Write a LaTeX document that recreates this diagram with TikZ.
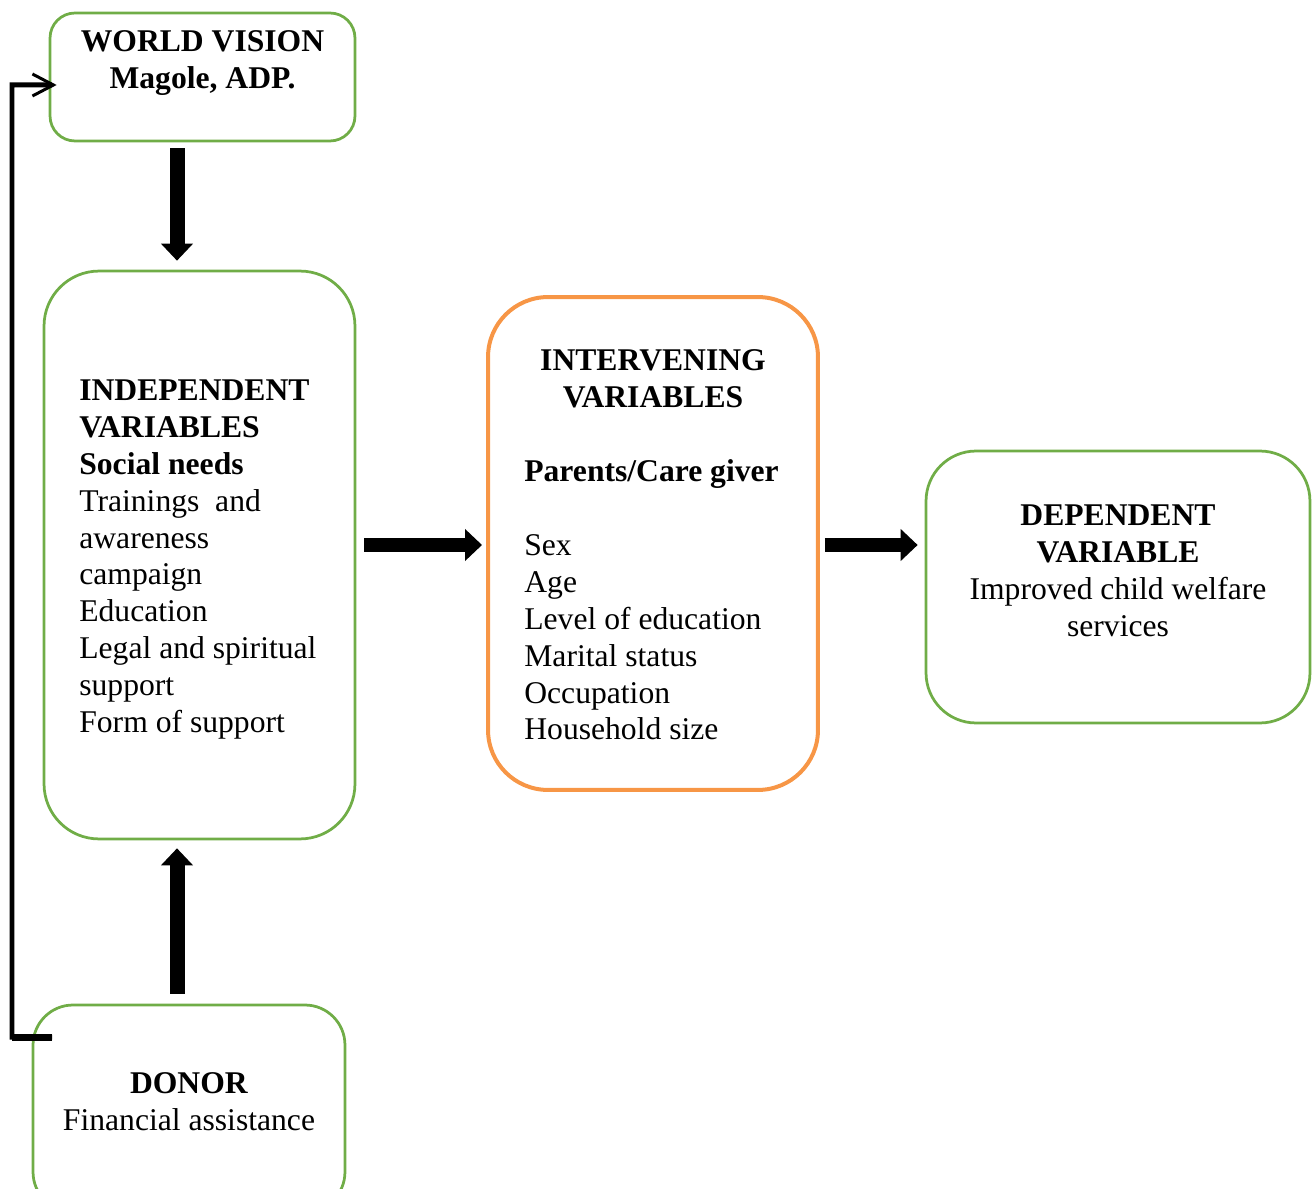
\documentclass[tikz,border=0pt]{standalone}
\usepackage{fontspec}
\setmainfont{Liberation Serif}
\usetikzlibrary{arrows.meta,positioning}
\definecolor{boxgreen}{HTML}{70AD47}
\definecolor{boxorange}{HTML}{F79646}

\begin{document}
\begin{tikzpicture}[x=0.02cm,y=-0.02cm,
  every node/.style={font=\fontsize{18}{21}\selectfont},
  box/.style={draw=boxgreen, line width=0.055cm, rounded corners=0.6cm, inner sep=0pt},
  boxtext/.style={inner sep=0pt, align=center},
  itemtext/.style={inner sep=0pt, align=left, anchor=west},
  bigarrow/.style={line width=0.3cm, -{Triangle[width=0.62cm,length=0.34cm]}},
  feedback/.style={line width=0.1cm, line join=miter, -{Straight Barb[line width=0.06cm,length=0.42cm,width=0.44cm]}}]

  \useasboundingbox (0,0) rectangle (1316,1189);
  \clip (0,0) rectangle (1316,1189);

  \node[box, minimum width=6.1cm, minimum height=2.56cm, rounded corners=0.5cm] (wv) at (202.5,77) {};
  \node[boxtext] (wvtext) at (202.5,63) {\textbf{WORLD VISION}\\\textbf{Magole, ADP.}};

  \node[box, minimum width=6.22cm, minimum height=11.36cm, rounded corners=1.1cm] (indep) at (199.5,555) {};
  \node[itemtext] (indeptext) at (79,559.5) {\textbf{INDEPENDENT}\\\textbf{VARIABLES}\\\textbf{Social needs}\\
    Trainings\ \ and\\awareness\\campaign\\Education\\Legal and spiritual\\support\\Form of support};

  \node[box, draw=boxorange, line width=0.08cm, minimum width=6.6cm, minimum height=9.86cm, rounded corners=1.2cm] (interv) at (653,543.5) {};
  \node[boxtext] (intertitle) at (653,379) {\textbf{INTERVENING}\\\textbf{VARIABLES}};
  \node[itemtext] (intertext) at (524,600) {\textbf{Parents/Care giver}\\[21pt]
    Sex\\Age\\Level of education\\Marital status\\Occupation\\Household size};

  \node[box, minimum width=7.68cm, minimum height=5.44cm, rounded corners=1cm] (dep) at (1118,587) {};
  \node[boxtext] (deptext) at (1118,571) {\textbf{DEPENDENT}\\\textbf{VARIABLE}\\Improved child welfare\\services};

  \node[box, minimum width=6.24cm, minimum height=4.14cm, rounded corners=0.8cm] (donor) at (189,1108.5) {};
  \node[boxtext] (donortext) at (189,1102) {\textbf{DONOR}\\Financial assistance};

  \coordinate (downx) at (177,0);
  \coordinate (midy) at (0,545);
  \draw[bigarrow, shorten <=0.12cm, shorten >=0.18cm] (wv.south -| downx) -- (indep.north -| downx);
  \draw[bigarrow, shorten <=0.2cm, shorten >=0.16cm] (donor.north -| downx) -- (indep.south -| downx);
  \draw[bigarrow, shorten <=0.16cm, shorten >=0.08cm] (indep.east |- midy) -- (interv.west |- midy);
  \draw[bigarrow, shorten <=0.1cm, shorten >=0.14cm] (interv.east |- midy) -- (dep.west |- midy);

  \coordinate (fbstart) at (52,1037);
  \coordinate (fbcorner) at (12,85);
  \coordinate (fbend) at ([xshift=0.16cm,yshift=-0.16cm]wv.west);
  \draw[line width=0.14cm] (fbstart) -- (fbstart -| fbcorner);
  \draw[feedback] (fbstart) -| (fbcorner) -- (fbend);
\end{tikzpicture}
\end{document}
